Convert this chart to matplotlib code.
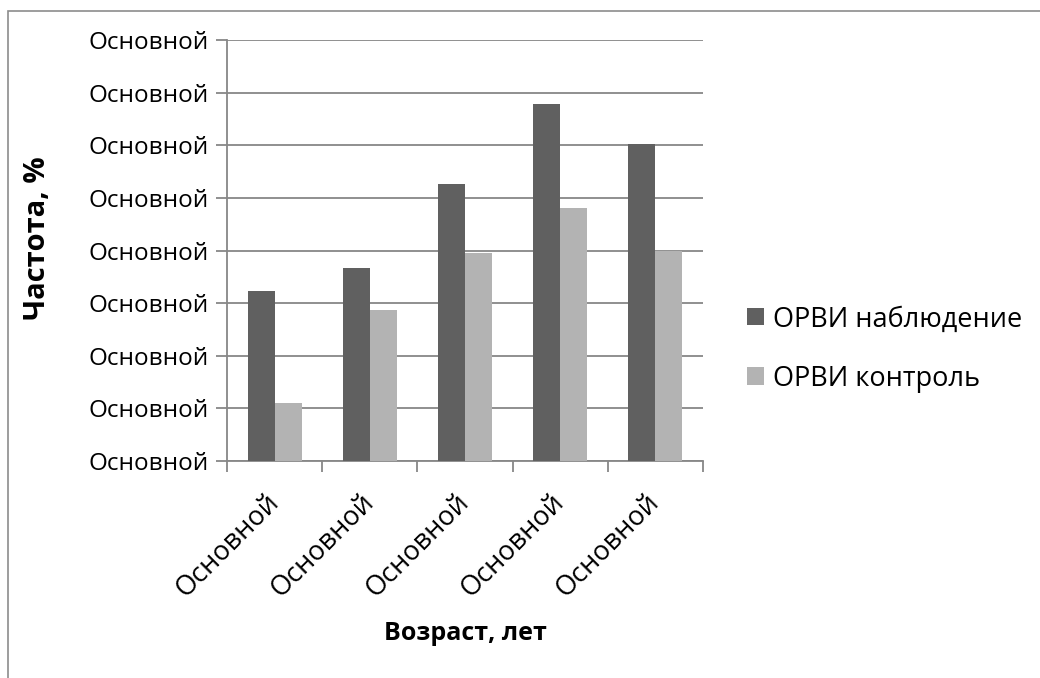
import numpy as np
import matplotlib.pyplot as plt
from matplotlib.patches import Rectangle

plt.rcParams['font.family'] = ['Open Sans', 'DejaVu Sans']

# ОРВИ по возрастным группам
groups = ['Основной', 'Основной', 'Основной', 'Основной', 'Основной']
observed = [32.3, 36.6, 52.6, 67.9, 60.2]   # ОРВИ наблюдение
control = [11.0, 28.7, 39.5, 48.1, 39.9]    # ОРВИ контроль
yticks = [0, 10, 20, 30, 40, 50, 60, 70, 80]
ytick_labels = ['Основной'] * len(yticks)

dark = '#606060'
light = '#b3b3b3'
grid = '#878787'

fig = plt.figure(figsize=(10.4, 6.78), dpi=100)
ax = fig.add_axes([227/1040, 1 - 461/678, 476/1040, 421/678])

# outer chart frame
fig.patches.append(Rectangle((8/1040, -0.05), 1.1, 1 - 11/678 + 0.05,
                             transform=fig.transFigure, fill=False,
                             edgecolor='#8c8c8c', linewidth=1.2))

x = np.arange(len(groups))
w = 0.284
ax.bar(x - w/2, observed, w, color=dark, label='ОРВИ наблюдение', zorder=3)
ax.bar(x + w/2, control, w, color=light, label='ОРВИ контроль', zorder=3)

ax.set_xlim(-0.5, len(groups) - 0.5)
ax.set_ylim(0, 80)
ax.set_yticks(yticks)
ax.set_yticklabels(ytick_labels, fontsize=17.5)
ax.yaxis.grid(True, color=grid, linewidth=1.3, zorder=0)
ax.tick_params(axis='y', length=8, width=1.3, color=grid, pad=5)

# category ticks sit between groups
ax.set_xticks(x)
ax.set_xticklabels(groups, fontsize=19.5, rotation=45, ha='right',
                   va='center', rotation_mode='anchor')
ax.tick_params(axis='x', length=0, pad=27)
ax.set_xticks(np.arange(len(groups) + 1) - 0.5, minor=True)
ax.tick_params(axis='x', which='minor', length=8, width=1.3, color=grid)

for side in ['top', 'right']:
    ax.spines[side].set_visible(False)
for side in ['left', 'bottom']:
    ax.spines[side].set_color(grid)
    ax.spines[side].set_linewidth(1.3)

ax.set_ylabel('Частота, %', fontsize=21, fontweight='bold')
ax.yaxis.set_label_coords((38 - 227) / 476, (461 - 238) / 421)
ax.set_xlabel('Возраст, лет', fontsize=18, fontweight='bold')
ax.xaxis.set_label_coords((465 - 227) / 476, (461 - 634) / 421)
ax.xaxis.label.set_va('center')
ax.yaxis.label.set_va('center')

fig.legend(loc='center left', bbox_to_anchor=(723/1040, 1 - 349/678),
           frameon=False, fontsize=19.5, handlelength=0.6, handleheight=0.6,
           handletextpad=0.35, labelspacing=1.15)

fig.savefig('out.png', dpi=100)
